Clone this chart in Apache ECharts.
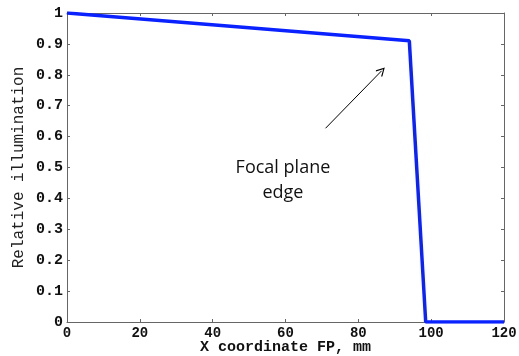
<!DOCTYPE html>
<html>
<head>
<meta charset="utf-8">
<script src="https://cdn.jsdelivr.net/npm/echarts@6/dist/echarts.min.js"></script>
<style>html,body{margin:0;padding:0;background:#fff}#c{width:519px;height:356px}</style>
</head>
<body>
<div id="c"></div>
<script>
var xValues = [0, 94, 98.5, 120];
var illumination = [1, 0.91, 0, 0];
var arrowStart = [71, 0.627];
var arrowEnd = [86.4, 0.813];
var noteAt = [59.3, 0.458];
var noteText = 'Focal plane\nedge';
var xTitle = 'X coordinate FP, mm';
var yTitle = 'Relative illumination';

var chart = echarts.init(document.getElementById('c'));
var mono = 'Liberation Mono';
var axisCol = '#666';
var lineData = xValues.map(function (x, i) { return [x, illumination[i]]; });

chart.setOption({
  animation: false,
  grid: { left: 67, right: 15, top: 13, bottom: 34, containLabel: false, outerBoundsMode: 'none' },
  xAxis: [{
    type: 'value', min: 0, max: 120, interval: 20,
    name: xTitle, nameLocation: 'middle', nameGap: 25, nameMoveOverlap: false,
    nameTextStyle: { fontFamily: mono, fontSize: 15, fontWeight: 'bold', color: '#111', verticalAlign: 'middle' },
    axisLine: { show: true, lineStyle: { color: axisCol, width: 1 } },
    axisTick: { show: true, inside: true, length: 3, lineStyle: { color: axisCol } },
    axisLabel: { margin: 4, fontFamily: mono, fontSize: 14, fontWeight: 'bold', color: '#111' },
    splitLine: { show: false }
  }, {
    type: 'value', position: 'top', min: 0, max: 120, interval: 20,
    axisLine: { show: true, onZero: false, lineStyle: { color: axisCol, width: 1 } },
    axisTick: { show: true, inside: true, length: 3, lineStyle: { color: axisCol } },
    axisLabel: { show: false }, splitLine: { show: false }
  }],
  yAxis: [{
    type: 'value', min: 0, max: 1, interval: 0.1,
    name: yTitle, nameLocation: 'middle', nameGap: 40, nameRotate: 90, nameMoveOverlap: false,
    nameTextStyle: { fontFamily: mono, fontSize: 16, color: '#222' },
    axisLine: { show: true, lineStyle: { color: axisCol, width: 1 } },
    axisTick: { show: true, inside: true, length: 3, lineStyle: { color: axisCol } },
    axisLabel: { margin: 4, fontFamily: mono, fontSize: 15, fontWeight: 'bold', color: '#111' },
    splitLine: { show: false }
  }, {
    type: 'value', position: 'right', min: 0, max: 1, interval: 0.1,
    axisLine: { show: true, onZero: false, lineStyle: { color: axisCol, width: 1 } },
    axisTick: { show: true, inside: true, length: 3, lineStyle: { color: axisCol } },
    axisLabel: { show: false }, splitLine: { show: false }
  }],
  series: [{
    type: 'line',
    data: lineData,
    showSymbol: false,
    symbol: 'none',
    lineStyle: { color: '#0a22ff', width: 3.5 },
    markLine: {
      silent: true,
      symbol: ['none', 'path://M5,0 L10,9 L9,10 L5,2.5 L1,10 L0,9 Z'],
      symbolSize: [9, 9],
      label: { show: false },
      lineStyle: { color: '#000', width: 1, type: 'solid' },
      data: [[{ coord: arrowStart }, { coord: arrowEnd }]]
    },
    markPoint: {
      silent: true,
      symbol: 'circle', symbolSize: 0,
      label: {
        show: true, position: 'inside', formatter: noteText,
        fontFamily: 'Open Sans', fontSize: 18, lineHeight: 25, color: '#111', align: 'center'
      },
      data: [{ coord: noteAt }]
    }
  }]
});
</script>
</body>
</html>
